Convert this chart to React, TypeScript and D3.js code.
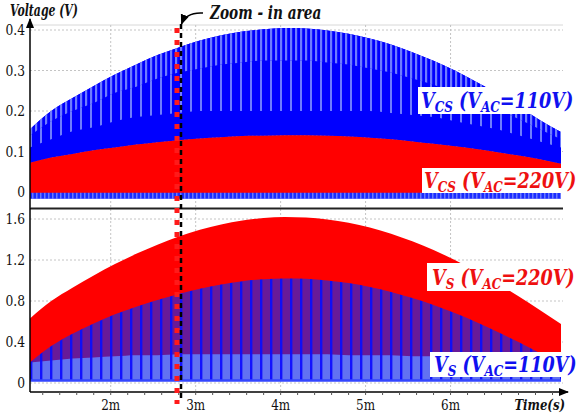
import React from "react";
import * as d3 from "d3";

// time samples (ms)
const times = [1.05, 1.3, 1.55, 1.8, 2.05, 2.3, 2.55, 2.8, 3.05, 3.3, 3.55, 3.8, 4.05, 4.3, 4.55, 4.8, 5.05, 5.3, 5.55, 5.8, 6.05, 6.3, 6.55, 6.8, 7.05, 7.3];
// top panel: V_CS envelopes (V)
const vcs110Top = [0.155, 0.2, 0.232, 0.262, 0.29, 0.315, 0.338, 0.357, 0.374, 0.387, 0.396, 0.402, 0.405, 0.404, 0.399, 0.391, 0.379, 0.364, 0.345, 0.324, 0.3, 0.272, 0.243, 0.211, 0.178, 0.148];
const vcs110Dip = [0.11, 0.13, 0.15, 0.16, 0.175, 0.185, 0.19, 0.195, 0.2, 0.2, 0.2, 0.2, 0.2, 0.2, 0.2, 0.2, 0.2, 0.195, 0.19, 0.185, 0.175, 0.165, 0.155, 0.14, 0.125, 0.11];
const vcs110Mid = [0.14, 0.175, 0.2, 0.22, 0.245, 0.26, 0.28, 0.295, 0.305, 0.315, 0.32, 0.325, 0.325, 0.325, 0.32, 0.315, 0.305, 0.295, 0.28, 0.265, 0.245, 0.225, 0.205, 0.18, 0.155, 0.13];
const vcs220Top = [0.072, 0.085, 0.094, 0.103, 0.11, 0.117, 0.123, 0.128, 0.132, 0.135, 0.138, 0.139, 0.14, 0.14, 0.139, 0.137, 0.134, 0.13, 0.125, 0.119, 0.113, 0.106, 0.098, 0.09, 0.081, 0.07];
const vcsFloor = -0.016;
// bottom panel: V_S envelopes (V)
const vs220Top = [0.63, 0.8, 0.93, 1.05, 1.16, 1.26, 1.35, 1.43, 1.495, 1.547, 1.586, 1.61, 1.62, 1.615, 1.596, 1.563, 1.516, 1.456, 1.382, 1.298, 1.199, 1.09, 0.972, 0.846, 0.713, 0.575];
const vs110Top = [0.2, 0.36, 0.48, 0.58, 0.67, 0.745, 0.81, 0.868, 0.92, 0.961, 0.993, 1.012, 1.02, 1.016, 1.0, 0.975, 0.937, 0.889, 0.829, 0.761, 0.682, 0.595, 0.5, 0.399, 0.292, 0.179];
const vs110Ripple = [0.2, 0.22, 0.24, 0.25, 0.26, 0.27, 0.27, 0.28, 0.28, 0.28, 0.28, 0.28, 0.28, 0.28, 0.28, 0.27, 0.27, 0.27, 0.26, 0.26, 0.25, 0.24, 0.23, 0.22, 0.2, 0.17];
const vsFloor = 0.025;

const xTicks = [2, 3, 4, 5, 6];
const xTickLabels = ["2m", "3m", "4m", "5m", "6m"];
const yTopTicks = [0, 0.1, 0.2, 0.3, 0.4];
const yTopLabels = ["0", "0.1", "0.2", "0.3", "0.4"];
const yBotTicks = [0, 0.4, 0.8, 1.2, 1.6];
const yBotLabels = ["0", "0.4", "0.8", "1.2", "1.6"];

const serif = "'DejaVu Serif', 'Liberation Serif', serif";

function ST({ x, y, sx, anchor = "start", size, bold = false, children, fill = "#111" }: any) {
  return (
    <g transform={`translate(${x},${y}) scale(${sx},1)`}>
      <text
        x={0}
        y={0}
        textAnchor={anchor}
        fill={fill}
        style={{ fontFamily: serif, fontSize: size, fontStyle: bold ? "italic" : "normal", fontWeight: bold ? "bold" : "normal" }}
      >
        {children}
      </text>
    </g>
  );
}

function Label({ x, y, sub, vac, color }: any) {
  const size = 22;
  const ss = 15;
  return (
    <ST x={x} y={y} sx={0.8} size={size} bold fill={color}>
      <tspan>V</tspan>
      <tspan fontSize={ss} dy={4}>{sub}</tspan>
      <tspan dy={-4}>{" (V"}</tspan>
      <tspan fontSize={ss} dy={4}>AC</tspan>
      <tspan dy={-4}>{"=" + vac + ")"}</tspan>
    </ST>
  );
}

export default function App() {
  const x = d3.scaleLinear().domain([1.05, 7.3]).range([30, 561]);
  const yT = d3.scaleLinear().domain([0, 0.4]).range([192, 30]);
  const yB = d3.scaleLinear().domain([0, 1.6]).range([383, 219]);
  const idx = times.map((_, i) => i);
  const curve = d3.curveMonotoneX;

  const areaT = (top: (i: number) => number, bot: (i: number) => number) =>
    d3.area<number>().x((i) => x(times[i])).y0((i) => yT(bot(i))).y1((i) => yT(top(i))).curve(curve)(idx) || "";
  const areaB = (top: (i: number) => number, bot: (i: number) => number) =>
    d3.area<number>().x((i) => x(times[i])).y0((i) => yB(bot(i))).y1((i) => yB(top(i))).curve(curve)(idx) || "";

  const minorTicks = d3.range(1.2, 7.3, 0.2);
  const grid = "#c4c4c4";

  return (
    <svg width={583} height={417} style={{ position: "absolute", left: 0, top: 0, background: "#fff" }}>
      <defs>
        <pattern id="ltBlueA" width={5} height={10} patternUnits="userSpaceOnUse">
          <rect width={5} height={10} fill="#0000ff" />
          <rect x={0} width={2.2} height={10} fill="#6f7dff" />
        </pattern>
        <pattern id="ltBlueB" width={10} height={10} patternUnits="userSpaceOnUse">
          <rect width={10} height={10} fill="#0000ff" />
          <rect x={0} width={2} height={10} fill="#6f7dff" />
        </pattern>
        <pattern id="noiseBlue" width={4} height={10} patternUnits="userSpaceOnUse">
          <rect width={4} height={10} fill="#1a2cff" />
          <rect x={0} width={1.5} height={10} fill="#6a7aff" />
        </pattern>
        <pattern id="purple" width={10} height={10} patternUnits="userSpaceOnUse">
          <rect width={10} height={10} fill="#681a98" />
          <rect x={0} width={2.4} height={10} fill="#0f0ff5" />
        </pattern>
        <pattern id="ltBlue2" width={10} height={10} patternUnits="userSpaceOnUse">
          <rect width={10} height={10} fill="#6272f2" />
          <rect x={0} width={2.4} height={10} fill="#1212ff" />
        </pattern>
        <clipPath id="clipT"><rect x={30} y={25} width={533} height={183} /></clipPath>
        <clipPath id="clipB"><rect x={30} y={209} width={533} height={183} /></clipPath>
        <marker id="arr" viewBox="0 0 10 10" refX={9} refY={5} markerWidth={7} markerHeight={7} orient="auto">
          <path d="M0,1 L10,5 L0,9 z" fill="#000" />
        </marker>
      </defs>

      {/* grid top */}
      <line x1={30} x2={563} y1={25} y2={25} stroke="#d8d8d8" strokeWidth={1} />
      {yTopTicks.map((t) => (
        <line key={"gt" + t} x1={30} x2={563} y1={yT(t)} y2={yT(t)} stroke={grid} strokeDasharray="2,2" />
      ))}
      {xTicks.map((t) => (
        <line key={"gxt" + t} x1={x(t)} x2={x(t)} y1={25} y2={208} stroke={grid} strokeDasharray="2,2" />
      ))}
      {/* grid bottom */}
      {yBotTicks.map((t) => (
        <line key={"gb" + t} x1={30} x2={563} y1={yB(t)} y2={yB(t)} stroke={grid} strokeDasharray="2,2" />
      ))}
      {xTicks.map((t) => (
        <line key={"gxb" + t} x1={x(t)} x2={x(t)} y1={209} y2={392} stroke={grid} strokeDasharray="2,2" />
      ))}

      {/* top panel data */}
      <g clipPath="url(#clipT)">
        <path d={areaT((i) => vcs110Top[i], () => vcsFloor)} fill="#0000ff" />
        <path d={areaT((i) => vcs110Mid[i], (i) => vcs110Dip[i])} fill="url(#ltBlueB)" />
        <path d={areaT((i) => vcs110Top[i], (i) => vcs110Mid[i])} fill="url(#ltBlueA)" />
        <path d={areaT((i) => vcs220Top[i], () => vcsFloor)} fill="url(#noiseBlue)" />
        <path d={areaT((i) => vcs220Top[i], () => -0.002)} fill="#ff0000" />
      </g>

      {/* bottom panel data */}
      <g clipPath="url(#clipB)">
        <path d={areaB((i) => vs220Top[i], () => vsFloor)} fill="#ff0000" />
        <path d={areaB((i) => vs110Top[i], () => vsFloor)} fill="url(#purple)" />
        <path d={areaB((i) => vs110Ripple[i], () => vsFloor)} fill="url(#ltBlue2)" />
        <path
          d={d3.line<number>().x((i) => x(times[i])).y(() => yB(vsFloor)).curve(curve)(idx) || ""}
          stroke="#3346ff"
          strokeWidth={2.5}
          fill="none"
        />
      </g>

      {/* axes */}
      <line x1={30} x2={30} y1={208} y2={19} stroke="#000" strokeWidth={1.5} markerEnd="url(#arr)" />
      <line x1={30} x2={563} y1={208.5} y2={208.5} stroke="#222" strokeWidth={1.8} />
      <line x1={30} x2={30} y1={208} y2={392} stroke="#000" strokeWidth={1.5} />
      <line x1={30} x2={568} y1={392} y2={392} stroke="#000" strokeWidth={1.5} markerEnd="url(#arr)" />
      {minorTicks.map((t) => (
        <line key={"mt" + t} x1={x(t)} x2={x(t)} y1={392} y2={395} stroke="#555" strokeWidth={1} />
      ))}

      {/* tick labels */}
      {yTopTicks.map((t, i) => (
        <ST key={"lt" + t} x={25} y={yT(t) + 5} sx={0.82} anchor="end" size={15}>{yTopLabels[i]}</ST>
      ))}
      {yBotTicks.map((t, i) => (
        <ST key={"lb" + t} x={25} y={yB(t) + 5} sx={0.82} anchor="end" size={15}>{yBotLabels[i]}</ST>
      ))}
      {xTicks.map((t, i) => (
        <ST key={"lx" + t} x={x(t)} y={410} sx={0.8} anchor="middle" size={15}>{xTickLabels[i]}</ST>
      ))}
      <ST x={565} y={410} sx={0.78} anchor="end" size={15} bold>Time(s)</ST>
      <ST x={10} y={16} sx={0.68} size={16} bold>Voltage (V)</ST>

      {/* zoom-in marker */}
      <line x1={177} x2={177} y1={28} y2={404} stroke="#ff1a1a" strokeWidth={5} strokeDasharray="5,7" />
      <line x1={181} x2={181} y1={24} y2={402} stroke="#000" strokeWidth={2.5} strokeDasharray="5,4" />
      <path d="M203,13 Q186,12 181.5,24" fill="none" stroke="#000" strokeWidth={1.5} markerEnd="url(#arr)" />
      <ST x={210} y={19} sx={0.76} size={18} bold>Zoom - in area</ST>

      {/* series labels */}
      <rect x={418} y={87} width={170} height={27} fill="#fff" />
      <Label x={421} y={108} sub="CS" vac="110V" color="#1010f0" />
      <rect x={422} y={168} width={166} height={25} fill="#fff" />
      <Label x={424} y={188} sub="CS" vac="220V" color="#ee1010" />
      <rect x={427} y={263} width={161} height={28} fill="#fff" />
      <Label x={432} y={285} sub="S" vac="220V" color="#ee1010" />
      <rect x={430} y={352} width={158} height={25} fill="#fff" />
      <Label x={434} y={372} sub="S" vac="110V" color="#1010f0" />
    </svg>
  );
}
